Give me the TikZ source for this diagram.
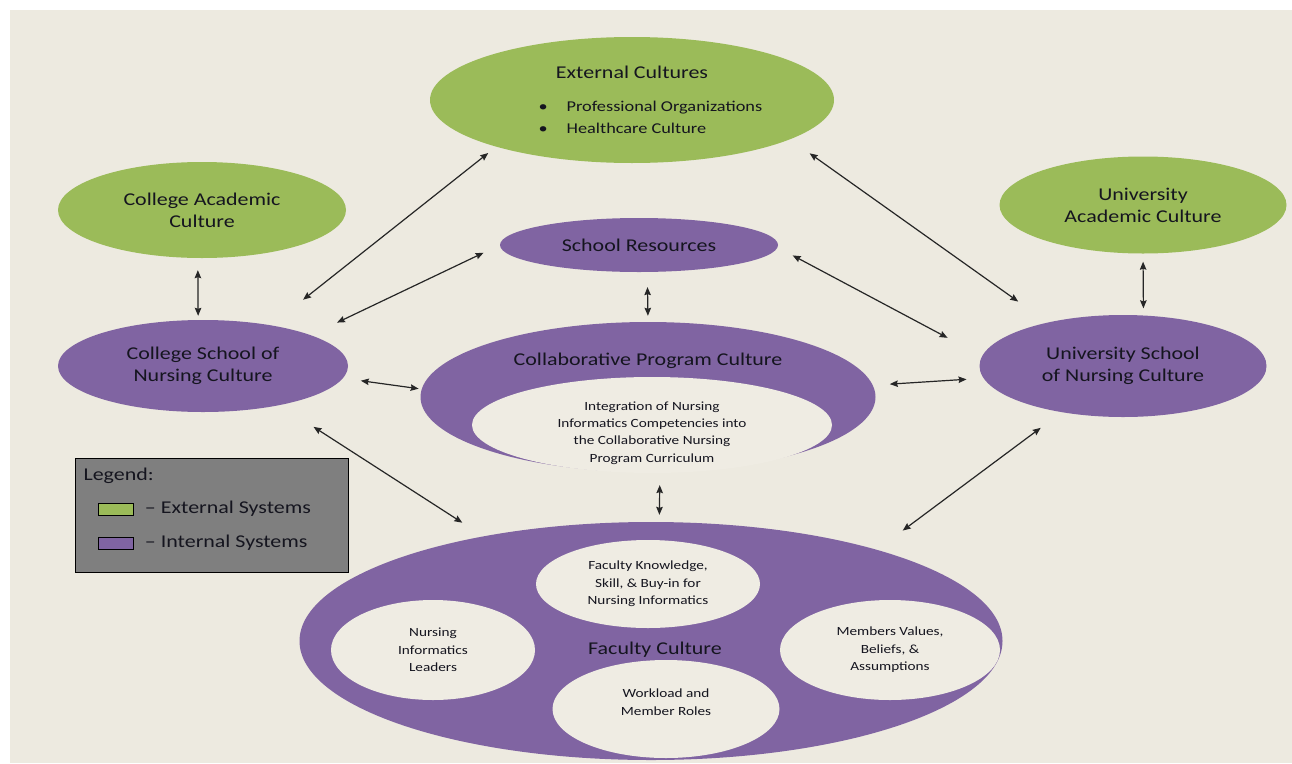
\documentclass[tikz,border=0pt]{standalone}
\usepackage{fontspec}
\setmainfont{Carlito}[FakeStretch=1.22]
\usetikzlibrary{shapes.geometric, arrows.meta}

\definecolor{bgbeige}{HTML}{EDEAE0}
\definecolor{extgreen}{HTML}{9BBB59}
\definecolor{intpurple}{HTML}{8064A2}
\definecolor{innerwhite}{HTML}{EFECE3}
\definecolor{legendgray}{HTML}{7F7F7F}
\definecolor{txtdark}{HTML}{15151F}

\begin{document}
\begin{tikzpicture}[x=1pt, y=-1pt,
	extsys/.style={ellipse, fill=extgreen, inner sep=0pt, align=center, text=txtdark},
	intsys/.style={ellipse, fill=intpurple, inner sep=0pt, align=center, text=txtdark},
	innerbox/.style={ellipse, fill=innerwhite, inner sep=0pt, align=center, text=txtdark,
		font=\fontsize{12.5}{17.5}\selectfont},
	big/.style={font=\fontsize{18}{22}\selectfont},
	link/.style={{Stealth[length=8pt, width=6.5pt, inset=1pt]}-{Stealth[length=8pt, width=6.5pt, inset=1pt]},
		line width=1.2pt, draw=black!85}]
	\useasboundingbox (0,0) rectangle (1292,763);
	\fill[white] (0,0) rectangle (1292,763);
	\fill[bgbeige] (10,10) rectangle (1292,763);

	% external systems
	\node (ext) [extsys, minimum width=404pt, minimum height=126pt] at (632,100) {};
	\node (exttitle) [big, text=txtdark] at (632,72) {External Cultures};
	\node (extlist) [anchor=west, align=left, text=txtdark, font=\fontsize{15}{22}\selectfont] at (535,117)
		{\textbullet\hspace{19pt}Professional Organizations\\\textbullet\hspace{19pt}Healthcare Culture};
	\node (cac) [extsys, big, minimum width=288pt, minimum height=96pt] at (202,210) {College Academic\\Culture};
	\node (uac) [extsys, big, minimum width=287pt, minimum height=97pt] at (1143,205) {University\\Academic Culture};

	% internal systems
	\node (res) [intsys, big, minimum width=278pt, minimum height=54pt] at (639,245) {School Resources};
	\node (csn) [intsys, big, minimum width=290pt, minimum height=92pt] at (203,366) {College School of\\Nursing Culture};
	\node (usn) [intsys, big, minimum width=287pt, minimum height=102pt] at (1123,366) {University School\\of Nursing Culture};

	\node (col) [intsys, minimum width=455pt, minimum height=150pt] at (648,397) {};
	\node (coltitle) [big, text=txtdark] at (648,361) {Collaborative Program Culture};
	\node (colin) [innerbox, minimum width=360pt, minimum height=96pt] at (652,425) {};
	\node (colintext) [align=center, text=txtdark, font=\fontsize{12.5}{17.3}\selectfont] at (652,433)
		{Integration of Nursing\\Informatics Competencies into\\the Collaborative Nursing\\Program Curriculum};

	\node (fac) [intsys, minimum width=703pt, minimum height=238pt] at (651,641) {};
	\node (factitle) [big, text=txtdark] at (655,650) {Faculty Culture};
	\node (fk) [innerbox, minimum width=224pt, minimum height=88pt] at (648,584) {Faculty Knowledge,\\Skill, \& Buy-in for\\Nursing Informatics};
	\node (nil) [innerbox, minimum width=204pt, minimum height=100pt] at (433,650) {Nursing\\Informatics\\Leaders};
	\node (mv) [innerbox, minimum width=220pt, minimum height=100pt] at (890,650) {Members Values,\\Beliefs, \&\\Assumptions};
	\node (wl) [innerbox, minimum width=227pt, minimum height=98pt] at (666,709) {};
	\node (wltext) [align=center, text=txtdark, font=\fontsize{12.5}{17.5}\selectfont] at (666,702) {Workload and\\Member Roles};

	% legend
	\node (legend) [draw=black, fill=legendgray, anchor=north west, inner sep=0pt,
		minimum width=273pt, minimum height=114pt] at (75,458) {};
	\node (legtitle) [anchor=west, big, text=txtdark] at (80,476) {Legend:};
	\node (extkey) [draw=black, fill=extgreen, anchor=west, inner sep=0pt,
		minimum width=35pt, minimum height=12pt] at (98,509) {};
	\node (extkeytext) [anchor=west, big, text=txtdark, xshift=8pt] at (extkey.east) {\textendash{} External Systems};
	\node (intkey) [draw=black, fill=intpurple, anchor=west, inner sep=0pt,
		minimum width=35pt, minimum height=12pt] at (98,543) {};
	\node (intkeytext) [anchor=west, big, text=txtdark, xshift=8pt] at (intkey.east) {\textendash{} Internal Systems};

	% connectors
	\draw[link, shorten <=12pt, shorten >=4pt] (cac.265) -- (csn.96);
	\draw[link, shorten <=8pt, shorten >=7pt] (uac.south) -- (usn.68);
	\draw[link, shorten <=15pt, shorten >=6pt] (res.287) -- (col.north);
	\draw[link, shorten <=13pt, shorten >=7pt] (col.279) -- (fac.86);
	\draw[link, shorten <=41pt, shorten >=10pt] (csn.31) -- (ext.199);
	\draw[link, shorten <=36pt, shorten >=24pt] (usn.150) -- (ext.346);
	\draw[link, shorten <=29pt, shorten >=18pt] (csn.16) -- (res.180);
	\draw[link, shorten <=39pt, shorten >=17pt] (usn.176) -- (res.359);
	\draw[link, shorten <=18pt, shorten >=3pt] (csn.355) -- (col.178);
	\draw[link, shorten <=17pt, shorten >=17pt] (usn.185) -- (col.3);
	\draw[link, shorten <=40pt, shorten >=25pt] (csn.333) -- (fac.148);
	\draw[link, shorten <=26pt, shorten >=32pt] (usn.217) -- (fac.22);
\end{tikzpicture}
\end{document}
